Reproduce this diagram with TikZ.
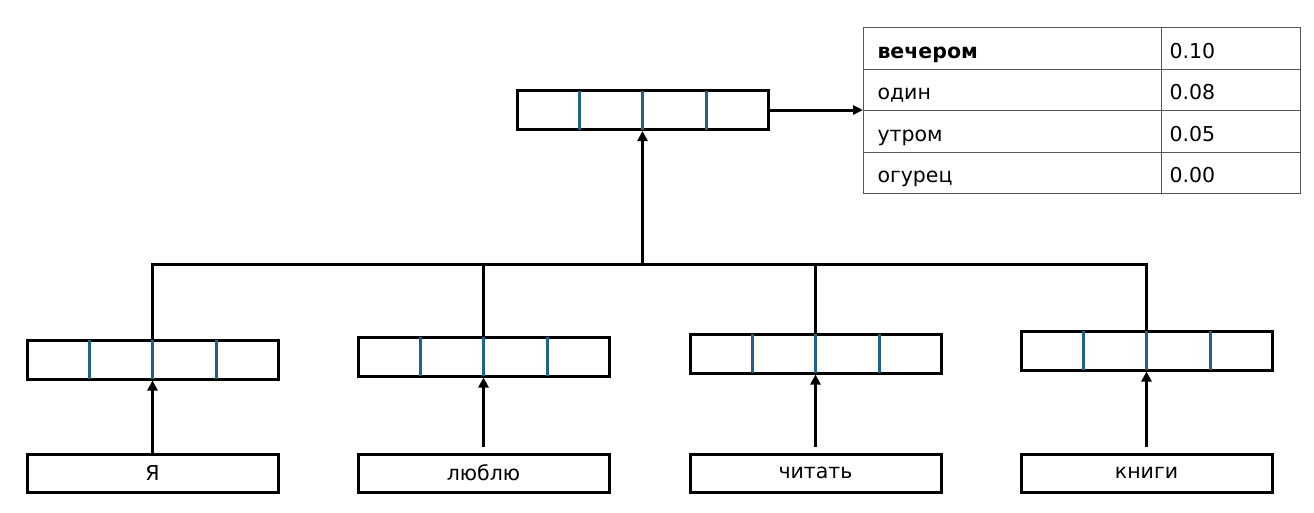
\documentclass[tikz,border=0pt]{standalone}
\usepackage{fontspec}
\setmainfont{DejaVu Sans}
\usetikzlibrary{arrows.meta,calc}
\definecolor{vecblue}{HTML}{1F6388}
\definecolor{tabgray}{HTML}{555555}
\begin{document}
\begin{tikzpicture}[x=1pt,y=-1pt,
  vecbox/.style={draw=black,line width=3pt,minimum width=251pt,minimum height=39pt,inner sep=0pt,anchor=north west},
  wordbox/.style={draw=black,line width=3pt,minimum width=251pt,minimum height=38pt,inner sep=0pt,anchor=north west,font=\fontsize{20.5}{22}\selectfont},
  cell/.style={draw=tabgray,line width=1pt,minimum height=41.5pt,inner sep=0pt,anchor=north west,font=\fontsize{20.5}{22}\selectfont,text height=19.5pt,text depth=0pt},
  cellA/.style={cell,minimum width=298pt,text width=270pt,align=left},
  cellB/.style={cell,minimum width=139pt,text width=123pt,align=left},
  conn/.style={line width=3pt},
  arr/.style={line width=3pt,-{Triangle[length=10pt,width=10pt]}},
  divl/.style={vecblue,line width=3pt,shorten <=1.5pt,shorten >=1.5pt}
]
\useasboundingbox (0,0) rectangle (1314,512);
\newcommand{\divs}[1]{%
  \foreach \f in {0.25,0.5,0.75}{\draw[divl] ($(#1.north west)!\f!(#1.north east)$) -- ($(#1.south west)!\f!(#1.south east)$);}}
% top vector
\node[vecbox] (top) at (515.5,89) {};
\divs{top}
% bottom vectors
\node[vecbox] (v1) at (25.5,338.5) {};
\node[vecbox] (v2) at (356.5,335.5) {};
\node[vecbox] (v3) at (688.5,332.5) {};
\node[vecbox] (v4) at (1019.5,329.5) {};
\divs{v1}\divs{v2}\divs{v3}\divs{v4}
% word boxes
\node[wordbox] (w1) at (25.5,452.5) {Я};
\node[wordbox] (w2) at (356.5,452.5) {люблю};
\node[wordbox] (w3) at (688.5,452.5) {читать};
\node[wordbox] (w4) at (1019.5,452.5) {книги};
% arrows word -> vector
\draw[arr] (w1.north) -- (v1.south);
\draw[arr,shorten <=6pt] (w2.north) -- (v2.south);
\draw[arr,shorten <=6pt] (w3.north) -- (v3.south);
\draw[arr,shorten <=6pt] (w4.north) -- (v4.south);
% bus
\coordinate (b1) at (v1.north |- 0,264);
\coordinate (b2) at (v2.north |- 0,264);
\coordinate (b3) at (v3.north |- 0,264);
\coordinate (b4) at (v4.north |- 0,264);
\coordinate (bt) at (top.south |- 0,264);
\draw[conn,line join=miter] (v1.north) -- (b1) -- (b4) -- (v4.north);
\draw[conn] (b2) -- (v2.north);
\draw[conn] (b3) -- (v3.north);
\draw[arr] (bt) -- (top.south);
% table
\node[cellA] (a1) at (863,27) {\textbf{вечером}};
\node[cellB] (c1) at (1161,27) {0.10};
\node[cellA] (a2) at (863,68.5) {один};
\node[cellB] (c2) at (1161,68.5) {0.08};
\node[cellA] (a3) at (863,110) {утром};
\node[cellB] (c3) at (1161,110) {0.05};
\node[cellA] (a4) at (863,151.5) {огурец};
\node[cellB] (c4) at (1161,151.5) {0.00};
\draw[line width=3pt,-{Triangle[length=10pt,width=9pt]}] (top.east) -- (top.east -| a3.north west);
\end{tikzpicture}
\end{document}
